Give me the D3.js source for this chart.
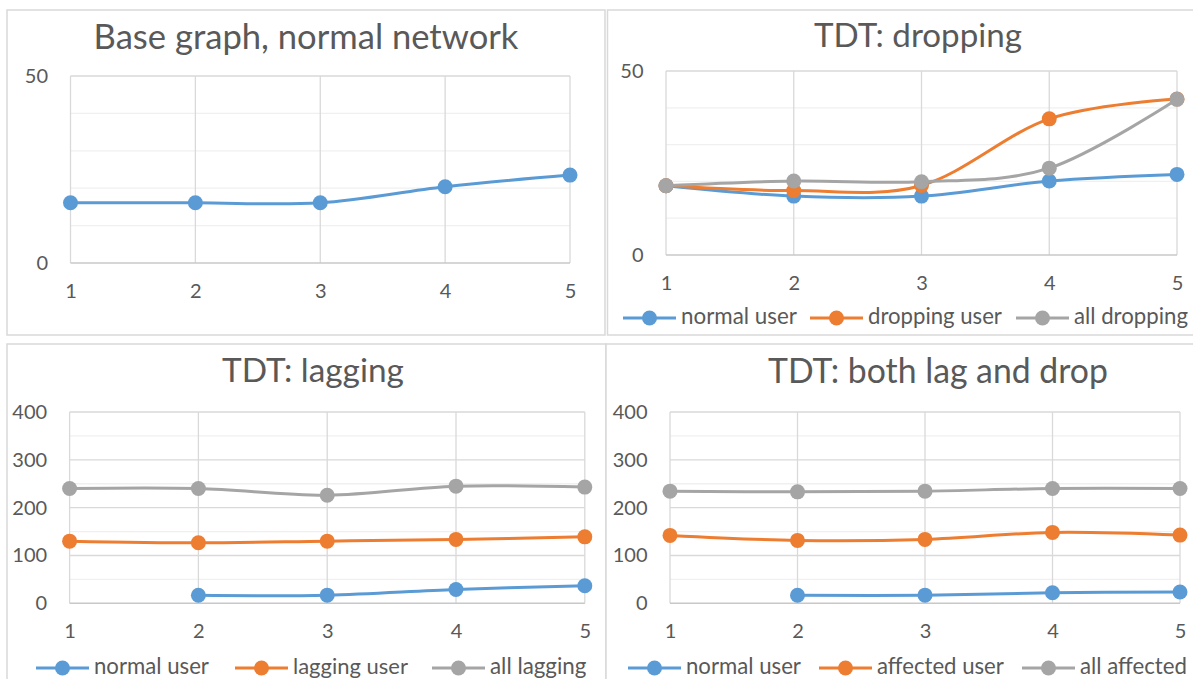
<!DOCTYPE html>
<html>
<head>
<meta charset="utf-8">
<script src="https://cdn.jsdelivr.net/npm/d3@7"></script>
<style>
  html, body { margin: 0; padding: 0; background: #fff; }
  svg { display: block; }
  text { font-family: Lato, "Open Sans", sans-serif; fill: #595959; }
</style>
</head>
<body>
<svg id="chart" width="1193" height="679"></svg>
<script>
// Test runs on the x axis
const runs = [1, 2, 3, 4, 5];

// Base graph, normal network
const baseNormal = [16.1, 16.1, 16.1, 20.4, 23.5];

// TDT: dropping
const dropNormal = [18.8, 16.0, 16.0, 20.1, 21.9];
const dropUser = [18.8, 17.5, 18.9, 37.0, 42.4];
const dropAll = [18.8, 20.1, 19.9, 23.6, 42.3];

// TDT: lagging
const lagNormal = [null, 16.7, 17.0, 29.0, 36.7];
const lagUser = [130, 126.5, 130, 133.6, 139];
const lagAll = [240, 240, 226, 245, 243];

// TDT: both lag and drop
const bothNormal = [null, 16.7, 17.0, 22.0, 23.6];
const bothUser = [142, 131.5, 133.6, 148.2, 142.6];
const bothAll = [234.5, 233, 234.5, 240, 240];

const titles = ["Base graph, normal network", "TDT: dropping", "TDT: lagging", "TDT: both lag and drop"];
const dropLegend = ["normal user", "dropping user", "all dropping"];
const lagLegend = ["normal user", "lagging user", "all lagging"];
const bothLegend = ["normal user", "affected user", "all affected"];
const smallTicks = [0, 50];
const largeTicks = [0, 100, 200, 300, 400];

const colors = ["#5b9bd5", "#ed7d31", "#a5a5a5"];

const svg = d3.select("#chart");

// Scale the font so the text spans the wanted width
function fitWidth(sel, width, base) {
  sel.style("font-size", base + "px");
  const w = sel.node().getComputedTextLength();
  sel.style("font-size", (base * width / w) + "px");
}

const panels = [
  { title: titles[0], titleW: 425, titleX: 306, titleY: 40,
    frame: [7, 10, 598, 325],
    x: [70.5, 570], y: [263, 76], max: 50, ticks: smallTicks, minor: 10,
    series: [baseNormal], legend: null },
  { title: titles[1], titleW: 208, titleX: 918, titleY: 39,
    frame: [607.5, 10, 620, 325],
    x: [666, 1177], y: [255, 71], max: 50, ticks: smallTicks, minor: 10,
    series: [dropNormal, dropUser, dropAll],
    legend: { names: dropLegend, y: 318, starts: [623, 810, 1016], widths: [116, 134, 114] } },
  { title: titles[2], titleW: 182, titleX: 313, titleY: 374,
    frame: [7, 344, 599, 400],
    x: [69.6, 584.8], y: [603.3, 412], max: 400, ticks: largeTicks, minor: 50,
    series: [lagNormal, lagUser, lagAll],
    legend: { names: lagLegend, y: 668, starts: [36, 235, 432], widths: [115, 115, 96.5] } },
  { title: titles[3], titleW: 340, titleX: 938, titleY: 374,
    frame: [606, 344, 620, 400],
    x: [670, 1180], y: [603.3, 412], max: 400, ticks: largeTicks, minor: 50,
    series: [bothNormal, bothUser, bothAll],
    legend: { names: bothLegend, y: 668, starts: [628, 819, 1022], widths: [115, 127, 107] } }
];

panels.forEach(p => {
  const g = svg.append("g");

  g.append("rect")
    .attr("x", p.frame[0]).attr("y", p.frame[1])
    .attr("width", p.frame[2]).attr("height", p.frame[3])
    .attr("fill", "#fff").attr("stroke", "#d9d9d9").attr("stroke-width", 1.5);

  const x = d3.scaleLinear().domain([1, 5]).range(p.x);
  const y = d3.scaleLinear().domain([0, p.max]).range(p.y);

  // minor horizontal gridlines
  const minorVals = d3.range(p.minor, p.max, p.minor).filter(v => !p.ticks.includes(v));
  g.append("g").selectAll("line").data(minorVals).join("line")
    .attr("x1", p.x[0]).attr("x2", p.x[1])
    .attr("y1", d => y(d)).attr("y2", d => y(d))
    .attr("stroke", "#f0f0f0").attr("stroke-width", 1.3);

  // major horizontal gridlines
  g.append("g").selectAll("line").data(p.ticks.filter(v => v > 0)).join("line")
    .attr("x1", p.x[0]).attr("x2", p.x[1])
    .attr("y1", d => y(d)).attr("y2", d => y(d))
    .attr("stroke", "#d9d9d9").attr("stroke-width", 1.3);

  // vertical gridlines
  g.append("g").selectAll("line").data(runs).join("line")
    .attr("x1", d => x(d)).attr("x2", d => x(d))
    .attr("y1", p.y[0]).attr("y2", p.y[1])
    .attr("stroke", "#d9d9d9").attr("stroke-width", 1.3);

  // category axis line
  g.append("line")
    .attr("x1", p.x[0]).attr("x2", p.x[1])
    .attr("y1", p.y[0]).attr("y2", p.y[0])
    .attr("stroke", "#c8c8c8").attr("stroke-width", 1.5);

  // y axis labels
  const yAxis = d3.axisLeft(y).tickValues(p.ticks).tickSize(0).tickPadding(22.5);
  const ya = g.append("g").attr("transform", `translate(${p.x[0]},0)`).call(yAxis);
  ya.select(".domain").remove();
  ya.selectAll("text").attr("fill", "#595959").style("font-size", "20px")
    .style("font-family", "Lato, 'Open Sans', sans-serif");

  // x axis labels
  const xAxis = d3.axisBottom(x).tickValues(runs).tickFormat(d3.format("d")).tickSize(0).tickPadding(21);
  const xa = g.append("g").attr("transform", `translate(0,${p.y[0]})`).call(xAxis);
  xa.select(".domain").remove();
  xa.selectAll("text").attr("fill", "#595959").style("font-size", "20px")
    .style("font-family", "Lato, 'Open Sans', sans-serif");

  // title
  const t = g.append("text")
    .attr("x", p.titleX)
    .attr("y", p.titleY)
    .attr("text-anchor", "middle").attr("dominant-baseline", "middle")
    .text(p.title);
  fitWidth(t, p.titleW, 30);

  // series
  const line = d3.line()
    .defined(d => d != null)
    .x((d, i) => x(runs[i]))
    .y(d => y(d))
    .curve(d3.curveCardinal.tension(0));

  p.series.forEach((vals, si) => {
    const c = colors[p.series.length === 1 ? 0 : si];
    g.append("path").datum(vals)
      .attr("d", line)
      .attr("fill", "none").attr("stroke", c).attr("stroke-width", 3)
      .attr("stroke-linejoin", "round").attr("stroke-linecap", "round");
    g.append("g").selectAll("circle")
      .data(vals.map((v, i) => ({ v, r: runs[i] })).filter(d => d.v != null))
      .join("circle")
      .attr("cx", d => x(d.r)).attr("cy", d => y(d.v))
      .attr("r", 7.5).attr("fill", c);
  });

  // legend
  if (p.legend) {
    const L = p.legend;
    L.names.forEach((name, i) => {
      const sx = L.starts[i];
      g.append("line")
        .attr("x1", sx).attr("x2", sx + 53)
        .attr("y1", L.y).attr("y2", L.y)
        .attr("stroke", colors[i]).attr("stroke-width", 3);
      g.append("circle").attr("cx", sx + 26.5).attr("cy", L.y).attr("r", 7.5).attr("fill", colors[i]);
      const lt = g.append("text")
        .attr("x", sx + 58).attr("y", L.y)
        .attr("dominant-baseline", "middle")
        .text(name);
      fitWidth(lt, L.widths[i], 20);
    });
  }
});
</script>
</body>
</html>
